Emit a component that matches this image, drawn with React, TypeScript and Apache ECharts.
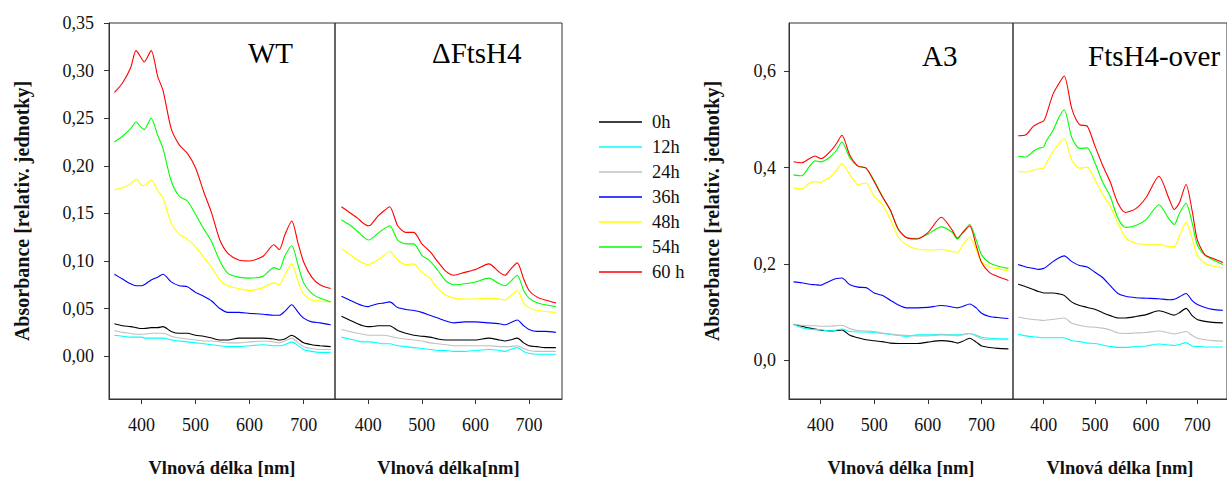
import { useEffect, useRef } from "react";
import * as echarts from "echarts";

// Wavelength grid (nm) shared by every spectrum
const WAVELENGTH = [350, 365, 380, 390, 400, 405, 418, 430, 440, 455, 470, 485, 500, 515, 530, 545, 560, 580, 600, 625, 645, 655, 665, 678, 690, 700, 715, 730, 750];

const SERIES_NAMES = ["0h", "12h", "24h", "36h", "48h", "54h", "60 h"];
const SERIES_COLORS = ["#000000", "#00ffff", "#c0c0c0", "#0000ff", "#ffff00", "#00ff00", "#ff0000"];

// WT
const WT_0H = [0.034, 0.032, 0.031, 0.030, 0.029, 0.029, 0.030, 0.030, 0.031, 0.026, 0.024, 0.024, 0.022, 0.021, 0.019, 0.017, 0.017, 0.019, 0.019, 0.019, 0.018, 0.017, 0.018, 0.022, 0.018, 0.014, 0.012, 0.011, 0.010];
const WT_12H = [0.022, 0.021, 0.020, 0.020, 0.020, 0.019, 0.019, 0.019, 0.019, 0.017, 0.016, 0.015, 0.014, 0.013, 0.012, 0.011, 0.010, 0.010, 0.011, 0.012, 0.011, 0.011, 0.012, 0.015, 0.011, 0.007, 0.005, 0.004, 0.004];
const WT_24H = [0.027, 0.025, 0.024, 0.023, 0.023, 0.023, 0.024, 0.024, 0.024, 0.021, 0.019, 0.018, 0.017, 0.016, 0.016, 0.015, 0.014, 0.014, 0.015, 0.016, 0.015, 0.014, 0.016, 0.019, 0.014, 0.010, 0.008, 0.007, 0.007];
const WT_36H = [0.086, 0.081, 0.076, 0.074, 0.074, 0.075, 0.080, 0.083, 0.086, 0.078, 0.074, 0.073, 0.067, 0.063, 0.058, 0.050, 0.046, 0.046, 0.045, 0.044, 0.043, 0.043, 0.047, 0.054, 0.046, 0.040, 0.036, 0.035, 0.033];
const WT_48H = [0.175, 0.177, 0.181, 0.186, 0.180, 0.179, 0.185, 0.174, 0.166, 0.140, 0.128, 0.123, 0.115, 0.104, 0.093, 0.080, 0.074, 0.071, 0.069, 0.072, 0.077, 0.075, 0.085, 0.097, 0.078, 0.065, 0.059, 0.058, 0.057];
const WT_54H = [0.225, 0.231, 0.239, 0.246, 0.240, 0.238, 0.250, 0.232, 0.218, 0.184, 0.168, 0.163, 0.149, 0.134, 0.120, 0.100, 0.087, 0.083, 0.082, 0.084, 0.093, 0.091, 0.105, 0.116, 0.095, 0.077, 0.066, 0.061, 0.057];
const WT_60H = [0.277, 0.287, 0.303, 0.321, 0.313, 0.309, 0.321, 0.294, 0.279, 0.239, 0.222, 0.213, 0.198, 0.173, 0.150, 0.122, 0.108, 0.101, 0.100, 0.105, 0.117, 0.112, 0.127, 0.142, 0.118, 0.099, 0.083, 0.075, 0.071];

// ΔFtsH4
const DEL_0H = [0.042, 0.038, 0.034, 0.032, 0.031, 0.031, 0.032, 0.032, 0.032, 0.027, 0.024, 0.022, 0.021, 0.020, 0.018, 0.017, 0.017, 0.017, 0.017, 0.019, 0.017, 0.016, 0.017, 0.019, 0.014, 0.011, 0.010, 0.009, 0.009];
const DEL_12H = [0.020, 0.018, 0.016, 0.015, 0.015, 0.015, 0.014, 0.013, 0.013, 0.011, 0.010, 0.009, 0.008, 0.007, 0.006, 0.006, 0.005, 0.005, 0.006, 0.007, 0.006, 0.005, 0.007, 0.009, 0.005, 0.003, 0.002, 0.002, 0.002];
const DEL_24H = [0.028, 0.026, 0.024, 0.023, 0.022, 0.022, 0.022, 0.022, 0.021, 0.019, 0.018, 0.017, 0.016, 0.014, 0.013, 0.012, 0.011, 0.011, 0.011, 0.011, 0.010, 0.010, 0.010, 0.011, 0.008, 0.006, 0.005, 0.005, 0.005];
const DEL_36H = [0.063, 0.059, 0.055, 0.053, 0.052, 0.053, 0.055, 0.056, 0.057, 0.051, 0.049, 0.048, 0.046, 0.043, 0.040, 0.037, 0.035, 0.036, 0.036, 0.035, 0.034, 0.033, 0.035, 0.038, 0.032, 0.028, 0.026, 0.026, 0.025];
const DEL_48H = [0.113, 0.107, 0.101, 0.098, 0.096, 0.097, 0.101, 0.106, 0.110, 0.101, 0.096, 0.097, 0.088, 0.082, 0.071, 0.064, 0.061, 0.060, 0.060, 0.061, 0.060, 0.059, 0.063, 0.069, 0.056, 0.051, 0.048, 0.047, 0.046];
const DEL_54H = [0.143, 0.138, 0.131, 0.126, 0.122, 0.123, 0.129, 0.134, 0.137, 0.122, 0.118, 0.118, 0.106, 0.100, 0.090, 0.079, 0.075, 0.076, 0.078, 0.082, 0.076, 0.074, 0.078, 0.085, 0.069, 0.061, 0.056, 0.054, 0.052];
const DEL_60H = [0.157, 0.151, 0.145, 0.140, 0.137, 0.138, 0.147, 0.153, 0.157, 0.137, 0.130, 0.130, 0.118, 0.110, 0.099, 0.089, 0.085, 0.088, 0.091, 0.097, 0.088, 0.085, 0.091, 0.098, 0.081, 0.069, 0.062, 0.059, 0.056];

// A3
const A3_0H = [0.075, 0.071, 0.067, 0.065, 0.063, 0.062, 0.061, 0.062, 0.063, 0.052, 0.047, 0.043, 0.041, 0.039, 0.036, 0.035, 0.035, 0.035, 0.038, 0.041, 0.039, 0.036, 0.040, 0.046, 0.038, 0.030, 0.027, 0.025, 0.024];
const A3_12H = [0.074, 0.068, 0.065, 0.064, 0.064, 0.063, 0.061, 0.063, 0.065, 0.060, 0.059, 0.059, 0.058, 0.056, 0.054, 0.052, 0.050, 0.053, 0.053, 0.054, 0.053, 0.053, 0.054, 0.056, 0.052, 0.048, 0.046, 0.045, 0.045];
const A3_24H = [0.075, 0.073, 0.072, 0.072, 0.071, 0.071, 0.071, 0.072, 0.073, 0.066, 0.062, 0.061, 0.060, 0.057, 0.055, 0.053, 0.052, 0.051, 0.051, 0.053, 0.052, 0.051, 0.053, 0.056, 0.050, 0.045, 0.043, 0.043, 0.043];
const A3_36H = [0.163, 0.161, 0.158, 0.157, 0.156, 0.158, 0.165, 0.170, 0.171, 0.157, 0.152, 0.151, 0.140, 0.135, 0.125, 0.115, 0.109, 0.109, 0.110, 0.114, 0.111, 0.109, 0.112, 0.117, 0.109, 0.098, 0.091, 0.089, 0.087];
const A3_48H = [0.358, 0.356, 0.368, 0.371, 0.369, 0.372, 0.380, 0.395, 0.408, 0.385, 0.365, 0.368, 0.340, 0.324, 0.293, 0.256, 0.240, 0.231, 0.229, 0.230, 0.226, 0.224, 0.240, 0.256, 0.229, 0.205, 0.194, 0.190, 0.186];
const A3_54H = [0.385, 0.383, 0.403, 0.414, 0.412, 0.413, 0.422, 0.436, 0.453, 0.420, 0.403, 0.399, 0.373, 0.341, 0.312, 0.272, 0.255, 0.253, 0.262, 0.277, 0.266, 0.252, 0.266, 0.282, 0.250, 0.219, 0.202, 0.196, 0.191];
const A3_60H = [0.412, 0.410, 0.419, 0.424, 0.419, 0.420, 0.433, 0.450, 0.467, 0.425, 0.403, 0.399, 0.371, 0.340, 0.312, 0.272, 0.255, 0.252, 0.265, 0.297, 0.271, 0.254, 0.265, 0.279, 0.238, 0.203, 0.182, 0.174, 0.166];

// FtsH4-over
const OVR_0H = [0.158, 0.153, 0.147, 0.143, 0.140, 0.140, 0.140, 0.138, 0.135, 0.121, 0.114, 0.110, 0.106, 0.099, 0.093, 0.088, 0.088, 0.091, 0.095, 0.103, 0.097, 0.094, 0.099, 0.108, 0.093, 0.085, 0.081, 0.079, 0.078];
const OVR_12H = [0.054, 0.051, 0.049, 0.048, 0.047, 0.047, 0.047, 0.047, 0.047, 0.041, 0.039, 0.036, 0.035, 0.032, 0.029, 0.027, 0.027, 0.029, 0.030, 0.034, 0.032, 0.031, 0.033, 0.037, 0.030, 0.029, 0.028, 0.028, 0.028];
const OVR_24H = [0.090, 0.087, 0.085, 0.084, 0.083, 0.084, 0.085, 0.087, 0.088, 0.077, 0.073, 0.070, 0.069, 0.067, 0.063, 0.057, 0.056, 0.057, 0.058, 0.061, 0.057, 0.055, 0.057, 0.060, 0.052, 0.046, 0.043, 0.041, 0.040];
const OVR_36H = [0.199, 0.194, 0.191, 0.189, 0.191, 0.194, 0.205, 0.213, 0.217, 0.205, 0.197, 0.194, 0.183, 0.172, 0.155, 0.139, 0.133, 0.130, 0.129, 0.128, 0.126, 0.127, 0.132, 0.139, 0.124, 0.116, 0.110, 0.106, 0.104];
const OVR_48H = [0.392, 0.391, 0.395, 0.397, 0.399, 0.409, 0.433, 0.450, 0.460, 0.415, 0.399, 0.401, 0.375, 0.345, 0.320, 0.285, 0.255, 0.243, 0.241, 0.241, 0.236, 0.236, 0.258, 0.287, 0.253, 0.218, 0.201, 0.196, 0.192];
const OVR_54H = [0.424, 0.422, 0.434, 0.440, 0.443, 0.455, 0.477, 0.505, 0.520, 0.462, 0.440, 0.441, 0.410, 0.370, 0.340, 0.295, 0.276, 0.280, 0.292, 0.323, 0.293, 0.282, 0.305, 0.326, 0.285, 0.240, 0.218, 0.209, 0.199];
const OVR_60H = [0.466, 0.468, 0.486, 0.492, 0.497, 0.509, 0.552, 0.575, 0.590, 0.522, 0.489, 0.486, 0.445, 0.405, 0.370, 0.326, 0.307, 0.315, 0.338, 0.382, 0.335, 0.313, 0.327, 0.365, 0.310, 0.250, 0.219, 0.212, 0.203];

const X_TICKS = [400, 500, 600, 700];
const Y_TICKS_LEFT = [0, 0.05, 0.1, 0.15, 0.2, 0.25, 0.3, 0.35];
const Y_TICKS_RIGHT = [0, 0.2, 0.4, 0.6];

const SERIF = "Liberation Serif";
const INK = "#111111";
const FRAME = "#333333";

const PANELS = [
  {
    title: "WT", titleX: 248, titleY: 53,
    grid: { left: 109, top: 23, width: 226, height: 382 },
    xMin: 340, xMax: 758, yMin: -0.045, yMax: 0.35,
    yTicks: Y_TICKS_LEFT, yDigits: 2, showY: true, yNameGap: 77,
    xName: "Vlnová délka [nm]",
    values: [WT_0H, WT_12H, WT_24H, WT_36H, WT_48H, WT_54H, WT_60H],
  },
  {
    title: "ΔFtsH4", titleX: 432, titleY: 53,
    grid: { left: 335, top: 23, width: 227, height: 382 },
    xMin: 338, xMax: 761.5, yMin: -0.045, yMax: 0.35,
    yTicks: Y_TICKS_LEFT, yDigits: 2, showY: false, yNameGap: 0,
    xName: "Vlnová délka[nm]",
    values: [DEL_0H, DEL_12H, DEL_24H, DEL_36H, DEL_48H, DEL_54H, DEL_60H],
  },
  {
    title: "A3", titleX: 922, titleY: 56,
    grid: { left: 789, top: 23, width: 224, height: 382 },
    xMin: 341.5, xMax: 758.5, yMin: -0.08, yMax: 0.7,
    yTicks: Y_TICKS_RIGHT, yDigits: 1, showY: true, yNameGap: 67,
    xName: "Vlnová délka [nm]",
    values: [A3_0H, A3_12H, A3_24H, A3_36H, A3_48H, A3_54H, A3_60H],
  },
  {
    title: "FtsH4-over", titleX: 1088, titleY: 56,
    grid: { left: 1013, top: 23, width: 224, height: 382 },
    xMin: 340, xMax: 758, yMin: -0.08, yMax: 0.7,
    yTicks: Y_TICKS_RIGHT, yDigits: 1, showY: false, yNameGap: 0,
    xName: "Vlnová délka [nm]",
    values: [OVR_0H, OVR_12H, OVR_24H, OVR_36H, OVR_48H, OVR_54H, OVR_60H],
  },
];

function buildOption() {
  const grid = PANELS.map((p) => ({
    ...p.grid,
    show: true,
    borderColor: FRAME,
    borderWidth: 1,
    backgroundColor: "transparent",
    containLabel: false,
  }));

  const xAxis = PANELS.map((p, i) => ({
    type: "value",
    gridIndex: i,
    min: p.xMin,
    max: p.xMax,
    splitLine: { show: false },
    axisLine: { show: true, onZero: false, lineStyle: { color: FRAME, width: 1 } },
    axisTick: { show: true, length: 5, inside: false, customValues: X_TICKS, lineStyle: { color: FRAME } },
    axisLabel: {
      customValues: X_TICKS,
      margin: 17,
      color: INK,
      fontFamily: SERIF,
      fontSize: 18,
    },
    name: p.xName,
    nameLocation: "middle",
    nameGap: 59,
    nameTextStyle: { fontFamily: SERIF, fontWeight: "bold", fontSize: 18.5, color: INK },
  }));

  const yAxis = PANELS.map((p, i) => ({
    type: "value",
    gridIndex: i,
    min: p.yMin,
    max: p.yMax,
    splitLine: { show: false },
    axisLine: { show: p.showY, onZero: false, lineStyle: { color: FRAME, width: 1 } },
    axisTick: { show: p.showY, length: 5, inside: false, customValues: p.yTicks, lineStyle: { color: FRAME } },
    axisLabel: {
      show: p.showY,
      customValues: p.yTicks,
      margin: p.yDigits === 2 ? 15 : 13,
      color: INK,
      fontFamily: SERIF,
      fontSize: 18,
      formatter: (v: number) => v.toFixed(p.yDigits).replace(".", ","),
    },
    name: p.showY ? "Absorbance [relativ. jednotky]" : "",
    nameLocation: "middle",
    nameGap: p.yNameGap,
    nameTextStyle: { fontFamily: SERIF, fontWeight: "bold", fontSize: 20, color: INK },
  }));

  const series: any[] = [];
  PANELS.forEach((p, i) => {
    p.values.forEach((vals, k) => {
      series.push({
        type: "line",
        name: SERIES_NAMES[k],
        xAxisIndex: i,
        yAxisIndex: i,
        showSymbol: false,
        symbol: "none",
        smooth: 0.25,
        color: SERIES_COLORS[k],
        lineStyle: { width: 1.1, color: SERIES_COLORS[k] },
        emphasis: { disabled: true },
        data: WAVELENGTH.map((w, j) => [w, vals[j]]),
      });
    });
  });

  const titles = PANELS.map((p) => ({
    type: "text",
    x: p.titleX,
    y: p.titleY,
    style: {
      text: p.title,
      fontFamily: SERIF,
      fontSize: 29,
      fill: "#000",
      verticalAlign: "middle",
      align: "left",
    },
  }));

  return {
    animation: false,
    backgroundColor: "#ffffff",
    grid,
    xAxis,
    yAxis,
    series,
    legend: {
      data: SERIES_NAMES,
      orient: "vertical",
      left: 599,
      top: 112,
      padding: 0,
      itemWidth: 43,
      itemHeight: 1.5,
      itemGap: 5,
      icon: "rect",
      selectedMode: false,
      textStyle: {
        fontFamily: SERIF,
        fontSize: 18.5,
        lineHeight: 20,
        color: INK,
        padding: [0, 0, 0, 5],
      },
    },
    graphic: titles,
  };
}

export default function App() {
  const ref = useRef<HTMLDivElement>(null);

  useEffect(() => {
    if (!ref.current) return;
    const chart = echarts.init(ref.current, undefined, { renderer: "svg" });
    chart.setOption(buildOption() as any);
    return () => chart.dispose();
  }, []);

  return (
    <div
      ref={ref}
      style={{ position: "absolute", left: 0, top: 0, width: 1227, height: 482, background: "#fff" }}
    />
  );
}
